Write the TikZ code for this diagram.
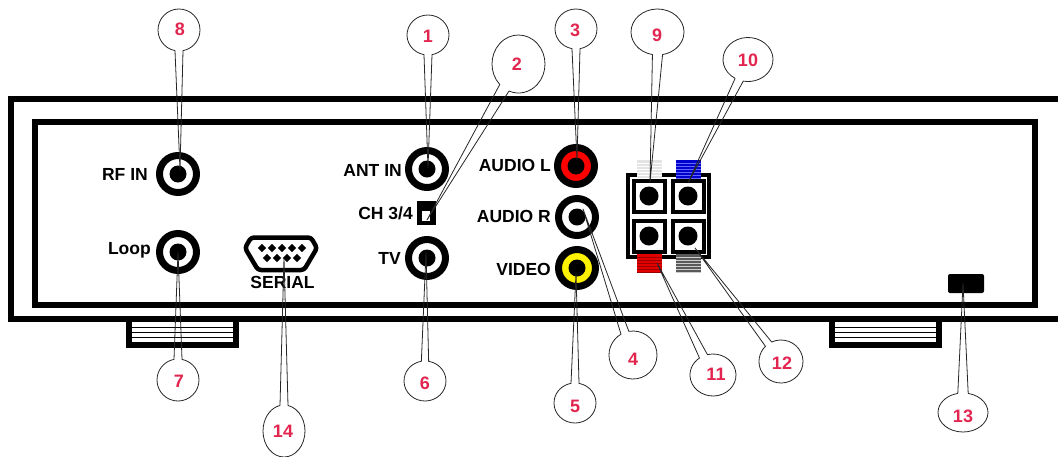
\documentclass[tikz,border=0pt]{standalone}
\usepackage{fontspec}
\setmainfont{Liberation Sans}
\usetikzlibrary{calc,shapes.geometric}
\definecolor{callred}{HTML}{E2254F}
\definecolor{tabgrey}{HTML}{E4E4E4}
\tikzset{
	panelline/.style={line width=6pt},
	devlabel/.style={font=\fontsize{17.5}{18}\selectfont\bfseries, inner sep=0pt},
	callnum/.style={font=\fontsize{18}{18}\selectfont\bfseries, text=callred, inner sep=0pt},
	callout/.style={line width=0.8pt, draw=black!85, line join=round},
	jack/.style={circle, draw=black, line width=7pt, minimum size=37pt, inner sep=0pt},
	pinhole/.style={diamond, fill=black, minimum size=8.5pt, inner sep=0pt}
}
\begin{document}
\begin{tikzpicture}[x=1pt, y=-1pt]
	\useasboundingbox (0,0) rectangle (1058,456);
	% cabinet
	\draw[panelline] (1060,98.5) -- (11,98.5) -- (11,319) -- (1060,319);
	\draw[panelline] (35,122) rectangle (1035,305);
	% feet
	\foreach \x in {126,829} {
		\fill (\x,322) rectangle (\x+113,348);
		\fill[white] (\x+6,322) rectangle (\x+107,342);
		\foreach \y in {327,332,337}
			\draw[line width=1pt] (\x+6,\y) -- (\x+107,\y);
	}
	% jacks
	\foreach \name/\x/\y/\col in {rfin/178/174/white, loop/178/252/white, antin/427/169/white,
		tv/427/258/white, audiol/576/166/red, audior/577/217/white, video/577/268/yellow} {
		\node[jack, fill=\col] (\name) at (\x,\y) {};
		\fill (\name) circle (8.5);
	}
	\node[devlabel, anchor=east] (rfinlabel) at (148,174) {RF IN};
	\node[devlabel, anchor=east] (looplabel) at (151,250) {Loop};
	\node[devlabel, anchor=east] (antlabel) at (402,170) {ANT IN};
	\node[devlabel, anchor=east] (chlabel) at (413,213) {CH 3/4};
	\node[devlabel, anchor=east] (tvlabel) at (401,258) {TV};
	\node[devlabel, anchor=east] (audlabel) at (551,165) {AUDIO L};
	\node[devlabel, anchor=east] (audrlabel) at (551,216) {AUDIO R};
	\node[devlabel, anchor=east] (vidlabel) at (551,269) {VIDEO};
	\node[devlabel] (seriallabel) at (282.5,282) {SERIAL};
	% channel switch
	\fill (417,201) rectangle (436,225);
	\fill[white] (422,211) rectangle (430,221);
	% serial port
	\draw[line width=4.5pt, line join=round, rounded corners=3pt] (251,237.5) -- (311,237.5) -- (317,248) -- (304,270)
		-- (258,270) -- (245,248) -- cycle;
	\foreach \x in {262,272,282,292,302}
		\node[pinhole] (pa\x) at (\x,248) {};
	\foreach \x in {267,277,287,297}
		\node[pinhole] (pb\x) at (\x,258) {};
	% speaker block
	\fill (626,173) rectangle (711,259);
	\fill[white] (630,177) rectangle (707,255);
	\foreach \x in {649,688}
		\foreach \y in {196,236} {
			\fill (\x-17.5,\y-17.5) rectangle (\x+17.5,\y+17.5);
			\fill[white] (\x-13.5,\y-13.5) rectangle (\x+13.5,\y+13.5);
			\fill (\x,\y) circle (9.5);
		}
	% terminal tabs
	\foreach \x/\y/\col/\strip in {637/160/tabgrey/white, 676/160/blue!80!black/blue!60,
		637/254/red!90!black/red!60!black, 676/254/black!65/black!20} {
		\fill[\col] (\x,\y) rectangle (\x+25,\y+18.5);
		\foreach \k in {3,6,...,18}
			\draw[\strip, line width=0.8pt] (\x,\y+\k) -- (\x+25,\y+\k);
	}
	% power switch
	\fill[rounded corners=2pt] (948,274) rectangle (984,293);
	% tips of the callouts
	\coordinate (t1) at (428,168);
	\coordinate (t2) at (427,220);
	\coordinate (t3) at (577,160);
	\coordinate (t4) at (583,209);
	\coordinate (t5) at (576,273);
	\coordinate (t6) at (426,252);
	\coordinate (t7) at (178,252);
	\coordinate (t8) at (180,170);
	\coordinate (t9) at (650,182);
	\coordinate (t10) at (688,183);
	\coordinate (t11) at (657,263);
	\coordinate (t12) at (695,248);
	\coordinate (t13) at (963,283);
	\coordinate (t14) at (284,258);
	% callouts
	\foreach \n/\cx/\cy/\rx/\ry/\dir/\gap/\tx/\ty in {
		1/428/35/21/20/90/11/428/36, 2/518.5/64/26.5/29/123/12/517/64,
		3/576/29/21/20/90/11/575/30, 4/633/355/24/24/250/10/633/359,
		5/575/403/21/20/270/11/575/406, 6/425/381/21/20/270/10/425/383,
		7/178/380/21/21/270/11/179/381, 8/179/30/21/21/90/11/180/29,
		9/657.5/32/26.5/23/90/11/657/35, 10/748/59.5/25/22/111/10/748/60,
		11/713/375/23/21/245/11/716/374, 12/781/361.5/22/21.5/235/10/782/363,
		13/963/412.5/25/19.5/270/12/963/416, 14/284/431/21/26/270/11/283/431} {
		\coordinate (b\n) at (\cx,\cy);
		\node[callnum] (n\n) at (\tx,\ty) {\n};
		\draw[callout] (t\n) -- ($(b\n)+({\rx*cos(\dir+\gap)},{\ry*sin(\dir+\gap)})$)
			arc[start angle=\dir+\gap, delta angle=360-2*\gap, x radius=\rx, y radius=\ry] -- cycle;
	}
\end{tikzpicture}
\end{document}
